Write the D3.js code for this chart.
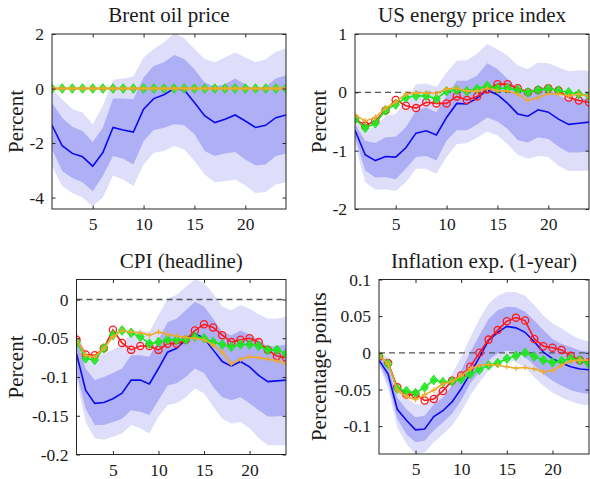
<!DOCTYPE html>
<html>
<head>
<meta charset="utf-8">
<script src="https://cdn.jsdelivr.net/npm/d3@7"></script>
<style>
  html, body { margin: 0; padding: 0; background: #fff; }
  svg { display: block; }
</style>
</head>
<body>
<svg id="chart" width="590" height="479"></svg>
<script>
// Horizons 1..24
const horizons = d3.range(1, 25);
const xTicks = [5, 10, 15, 20];

// ---- Brent oil price ----
const brentMedian = [-1.35,-2.1,-2.38,-2.5,-2.85,-2.35,-1.43,-1.52,-1.6,-0.76,-0.37,-0.23,0.0,-0.05,-0.51,-1.0,-1.25,-1.13,-0.97,-1.19,-1.43,-1.35,-1.07,-0.97];
const brentOuterHi = [-0.02,-0.39,-0.76,-0.88,-1.31,-0.64,0.32,0.37,0.44,1.14,1.45,1.69,2.04,1.84,1.45,1.08,0.96,1.14,1.32,1.14,0.96,1.06,1.35,1.47];
const brentInnerHi = [-0.52,-1.07,-1.4,-1.56,-1.96,-1.44,-0.37,-0.37,-0.39,0.4,0.83,0.96,1.23,1.08,0.71,0.22,0.07,0.16,0.37,0.16,-0.05,0.07,0.37,0.49];
const brentInnerLo = [-2.23,-3.03,-3.28,-3.44,-3.77,-3.21,-2.48,-2.58,-2.79,-1.93,-1.52,-1.44,-1.31,-1.35,-1.68,-2.29,-2.48,-2.38,-2.33,-2.6,-2.82,-2.79,-2.48,-2.38];
const brentOuterLo = [-2.85,-3.58,-3.83,-4.0,-4.32,-4.0,-3.19,-3.34,-3.58,-2.79,-2.36,-2.29,-2.11,-2.23,-2.66,-3.15,-3.44,-3.4,-3.34,-3.56,-3.83,-3.8,-3.52,-3.44];
const brentOrange = [0,0,0,0,0,0,0,0,0,0,0,0,0,0,0,0,0,0,0,0,0,0,0,0];
const brentGreen  = [0,0,0,0,0,0,0,0,0,0,0,0,0,0,0,0,0,0,0,0,0,0,0,0];
const brentTicks = [-4, -2, 0, 2];

// ---- US energy price index ----
const energyMedian = [-0.65,-1.07,-1.17,-1.1,-1.11,-0.95,-0.7,-0.66,-0.73,-0.43,-0.19,-0.2,-0.1,0.04,-0.04,-0.19,-0.37,-0.41,-0.3,-0.34,-0.46,-0.55,-0.53,-0.51];
const energyOuterHi = [-0.4,-0.63,-0.59,-0.4,-0.37,-0.14,0.14,0.15,0.09,0.34,0.54,0.55,0.66,0.83,0.74,0.63,0.46,0.4,0.51,0.5,0.43,0.36,0.38,0.37];
const energyInnerHi = [-0.54,-0.83,-0.87,-0.77,-0.76,-0.6,-0.31,-0.26,-0.34,-0.06,0.2,0.2,0.29,0.5,0.4,0.23,0.06,0.0,0.1,0.07,-0.05,-0.13,-0.11,-0.1];
const energyInnerLo = [-0.77,-1.34,-1.46,-1.45,-1.49,-1.31,-1.11,-1.09,-1.17,-0.83,-0.65,-0.65,-0.55,-0.43,-0.5,-0.63,-0.82,-0.86,-0.77,-0.8,-0.93,-1.03,-1.03,-1.01];
const energyOuterLo = [-0.89,-1.54,-1.67,-1.66,-1.69,-1.54,-1.31,-1.31,-1.4,-1.11,-0.89,-0.87,-0.78,-0.67,-0.74,-0.89,-1.07,-1.14,-1.09,-1.11,-1.26,-1.35,-1.35,-1.34];
const energyRed    = [-0.45,-0.57,-0.49,-0.31,-0.13,-0.23,-0.27,-0.17,-0.19,-0.19,-0.07,-0.13,-0.07,0.05,0.14,0.14,0.07,0.0,0.04,0.07,0.03,-0.09,-0.14,-0.17];
const energyOrange = [-0.39,-0.49,-0.43,-0.27,-0.17,-0.03,-0.01,-0.01,-0.02,0.06,0.07,0.02,0.02,0.07,0.03,0.02,-0.03,-0.14,-0.09,-0.02,-0.03,-0.06,-0.03,-0.07];
const energyGreen  = [-0.46,-0.61,-0.53,-0.31,-0.21,-0.09,-0.06,-0.06,-0.11,0.02,0.04,0.02,0.06,0.11,0.07,0.07,0.04,0.0,0.04,0.06,0.03,0.0,-0.03,-0.06];
const energyTicks = [-2, -1, 0, 1];

// ---- CPI (headline) ----
const cpiMedian = [-0.07,-0.117,-0.134,-0.133,-0.128,-0.121,-0.104,-0.104,-0.109,-0.089,-0.068,-0.063,-0.052,-0.044,-0.05,-0.065,-0.08,-0.086,-0.08,-0.087,-0.098,-0.106,-0.105,-0.104];
const cpiOuterHi = [-0.04,-0.068,-0.074,-0.07,-0.065,-0.059,-0.042,-0.04,-0.042,-0.02,0.001,0.006,0.016,0.026,0.021,0.008,-0.009,-0.014,-0.007,-0.012,-0.019,-0.025,-0.025,-0.022];
const cpiInnerHi = [-0.052,-0.089,-0.104,-0.1,-0.095,-0.089,-0.072,-0.072,-0.074,-0.052,-0.029,-0.025,-0.014,-0.003,-0.009,-0.025,-0.042,-0.046,-0.04,-0.045,-0.052,-0.061,-0.06,-0.058];
const cpiInnerLo = [-0.095,-0.141,-0.162,-0.162,-0.158,-0.154,-0.143,-0.145,-0.149,-0.13,-0.111,-0.108,-0.1,-0.089,-0.095,-0.113,-0.126,-0.13,-0.126,-0.134,-0.143,-0.151,-0.151,-0.149];
const cpiOuterLo = [-0.104,-0.158,-0.179,-0.181,-0.177,-0.173,-0.162,-0.166,-0.173,-0.151,-0.136,-0.134,-0.126,-0.115,-0.121,-0.138,-0.154,-0.16,-0.158,-0.166,-0.179,-0.188,-0.188,-0.188];
const cpiRed    = [-0.052,-0.071,-0.072,-0.063,-0.039,-0.056,-0.065,-0.06,-0.06,-0.065,-0.057,-0.057,-0.052,-0.04,-0.032,-0.036,-0.046,-0.055,-0.052,-0.05,-0.055,-0.065,-0.073,-0.075];
const cpiOrange = [-0.052,-0.072,-0.074,-0.063,-0.048,-0.04,-0.042,-0.043,-0.046,-0.042,-0.045,-0.047,-0.049,-0.05,-0.052,-0.059,-0.068,-0.083,-0.077,-0.074,-0.075,-0.077,-0.079,-0.083];
const cpiGreen  = [-0.055,-0.076,-0.078,-0.063,-0.046,-0.04,-0.043,-0.048,-0.057,-0.055,-0.052,-0.052,-0.052,-0.048,-0.05,-0.055,-0.058,-0.061,-0.058,-0.058,-0.06,-0.065,-0.065,-0.07];
const cpiTicks = [-0.2, -0.15, -0.1, -0.05, 0];

// ---- Inflation expectations (1-year) ----
const expMedian = [-0.01,-0.029,-0.077,-0.092,-0.105,-0.104,-0.087,-0.079,-0.067,-0.049,-0.028,-0.006,0.017,0.028,0.036,0.034,0.028,0.015,0.001,-0.008,-0.014,-0.019,-0.022,-0.023];
const expOuterHi = [-0.001,-0.006,-0.047,-0.061,-0.07,-0.07,-0.056,-0.047,-0.029,-0.006,0.021,0.046,0.067,0.078,0.083,0.083,0.078,0.065,0.051,0.04,0.033,0.025,0.019,0.015];
const expInnerHi = [-0.005,-0.019,-0.061,-0.077,-0.088,-0.086,-0.07,-0.061,-0.045,-0.024,0.001,0.024,0.046,0.058,0.063,0.062,0.056,0.044,0.031,0.019,0.012,0.008,0.003,0.001];
const expInnerLo = [-0.015,-0.04,-0.09,-0.111,-0.122,-0.12,-0.106,-0.095,-0.083,-0.065,-0.042,-0.026,-0.01,-0.001,0.003,0.001,-0.006,-0.017,-0.029,-0.038,-0.045,-0.051,-0.054,-0.056];
const expOuterLo = [-0.017,-0.049,-0.102,-0.124,-0.138,-0.136,-0.122,-0.111,-0.099,-0.081,-0.058,-0.04,-0.024,-0.015,-0.01,-0.013,-0.02,-0.033,-0.045,-0.054,-0.061,-0.066,-0.07,-0.072];
const expRed    = [-0.005,-0.014,-0.047,-0.057,-0.057,-0.065,-0.063,-0.052,-0.038,-0.031,-0.019,0.0,0.018,0.031,0.043,0.048,0.044,0.019,0.009,0.007,0.004,-0.004,-0.01,-0.013];
const expOrange = [-0.004,-0.015,-0.051,-0.06,-0.064,-0.057,-0.051,-0.042,-0.039,-0.031,-0.022,-0.017,-0.016,-0.017,-0.019,-0.021,-0.02,-0.022,-0.026,-0.024,-0.017,-0.011,-0.01,-0.01];
const expGreen  = [-0.004,-0.015,-0.049,-0.052,-0.055,-0.047,-0.037,-0.04,-0.039,-0.036,-0.029,-0.023,-0.017,-0.014,-0.008,-0.004,0.0,-0.005,-0.01,-0.013,-0.011,-0.008,-0.01,-0.015];
const expTicks = [-0.1, -0.05, 0, 0.05, 0.1];

const FONT = "'Liberation Serif', 'DejaVu Serif', serif";

const COL = {
  outer: "#dedefb",
  inner: "#afaff6",
  median: "#0a0af0",
  red: "#ff1a1a",
  orange: "#eeaa2a",
  green: "#1be81b",
  axis: "#262626",
  zero: "#555555"
};

const panels = [
  { title: "Brent oil price", ylabel: "Percent", box: [52, 34, 286, 209], yDomain: [-4.42, 2], ticks: brentTicks,
    median: brentMedian, outer: [brentOuterLo, brentOuterHi], inner: [brentInnerLo, brentInnerHi],
    red: null, orange: brentOrange, green: brentGreen, orangeWidth: 2.6, ylabelX: 16 },
  { title: "US energy price index", ylabel: "Percent", box: [355, 34, 589, 209], yDomain: [-2, 1], ticks: energyTicks,
    median: energyMedian, outer: [energyOuterLo, energyOuterHi], inner: [energyInnerLo, energyInnerHi],
    red: energyRed, orange: energyOrange, green: energyGreen, orangeWidth: 1.6, ylabelX: 319 },
  { title: "CPI (headline)", ylabel: "Percent", box: [76.5, 279.5, 286, 454.5], yDomain: [-0.2, 0.0258], ticks: cpiTicks,
    median: cpiMedian, outer: [cpiOuterLo, cpiOuterHi], inner: [cpiInnerLo, cpiInnerHi],
    red: cpiRed, orange: cpiOrange, green: cpiGreen, orangeWidth: 1.6, ylabelX: 16 },
  { title: "Inflation exp. (1-year)", ylabel: "Percentage points", box: [379, 279.5, 589, 454], yDomain: [-0.138, 0.1], ticks: expTicks,
    median: expMedian, outer: [expOuterLo, expOuterHi], inner: [expInnerLo, expInnerHi],
    red: expRed, orange: expOrange, green: expGreen, orangeWidth: 1.6, ylabelX: 319 }
];

const svg = d3.select("#chart");

panels.forEach((p, i) => {
  const [x0, y0, x1, y1] = p.box;
  const x = d3.scaleLinear().domain([1, 24]).range([x0, x1]);
  const y = d3.scaleLinear().domain(p.yDomain).range([y1, y0]);

  const clipId = "clip" + i;
  svg.append("clipPath").attr("id", clipId)
    .append("rect").attr("x", x0).attr("y", y0).attr("width", x1 - x0).attr("height", y1 - y0);

  const g = svg.append("g");
  const plot = g.append("g").attr("clip-path", `url(#${clipId})`);

  const band = (lo, hi) => d3.area()
    .x((d, k) => x(horizons[k]))
    .y0((d, k) => y(lo[k]))
    .y1((d, k) => y(hi[k]))(horizons);

  plot.append("path").attr("d", band(p.outer[0], p.outer[1])).attr("fill", COL.outer);
  plot.append("path").attr("d", band(p.inner[0], p.inner[1])).attr("fill", COL.inner);

  // zero reference
  plot.append("line")
    .attr("x1", x0).attr("x2", x1).attr("y1", y(0)).attr("y2", y(0))
    .attr("stroke", COL.zero).attr("stroke-width", 1.3).attr("stroke-dasharray", "6,4");

  const line = vals => d3.line().x((d, k) => x(horizons[k])).y((d, k) => y(vals[k]))(horizons);

  plot.append("path").attr("d", line(p.median)).attr("fill", "none")
    .attr("stroke", COL.median).attr("stroke-width", 1.6);

  // red series with open circles
  if (p.red) {
    plot.append("path").attr("d", line(p.red)).attr("fill", "none")
      .attr("stroke", COL.red).attr("stroke-width", 1.6);
    plot.append("g").selectAll("circle").data(p.red).join("circle")
      .attr("cx", (d, k) => x(horizons[k])).attr("cy", d => y(d)).attr("r", 3.6)
      .attr("fill", "none").attr("stroke", COL.red).attr("stroke-width", 1.3);
  }

  // green series with filled diamonds
  plot.append("path").attr("d", line(p.green)).attr("fill", "none")
    .attr("stroke", COL.green).attr("stroke-width", 1.6);
  plot.append("g").selectAll("path").data(p.green).join("path")
    .attr("d", "M0,-4.8L3.8,0L0,4.8L-3.8,0Z")
    .attr("transform", (d, k) => `translate(${x(horizons[k])},${y(d)})`)
    .attr("fill", COL.green).attr("fill-opacity", 0.85).attr("stroke", COL.green).attr("stroke-width", 1);

  // orange series with plus markers
  plot.append("path").attr("d", line(p.orange)).attr("fill", "none")
    .attr("stroke", COL.orange).attr("stroke-width", p.orangeWidth);
  plot.append("g").selectAll("path").data(p.orange).join("path")
    .attr("d", "M-2.8,0H2.8M0,-2.8V2.8")
    .attr("transform", (d, k) => `translate(${x(horizons[k])},${y(d)})`)
    .attr("fill", "none").attr("stroke", COL.orange).attr("stroke-width", 1.2);

  // axes box with inward ticks
  const tl = 3.5;
  const axL = d3.axisLeft(y).tickValues(p.ticks).tickSize(-tl).tickPadding(8)
    .tickFormat(d => (d < 0 ? "-" : "") + d3.format("")(Math.abs(d)));
  const axR = d3.axisRight(y).tickValues(p.ticks).tickSize(-tl).tickFormat("");
  const axB = d3.axisBottom(x).tickValues(xTicks).tickSize(-tl).tickPadding(9).tickFormat(d3.format("d"));
  const axT = d3.axisTop(x).tickValues(xTicks).tickSize(-tl).tickFormat("");

  const styleAxis = sel => {
    sel.attr("font-family", null);
    sel.selectAll(".tick line").attr("stroke", COL.axis).attr("stroke-width", 1);
    sel.selectAll("text").style("font-family", FONT).style("font-size", "17.5px").attr("fill", "#1a1a1a");
  };

  g.append("g").attr("transform", `translate(${x0},0)`).call(axL).call(styleAxis);
  g.append("g").attr("transform", `translate(${x1},0)`).call(axR).call(styleAxis);
  g.append("g").attr("transform", `translate(0,${y1})`).call(axB).call(styleAxis);
  g.append("g").attr("transform", `translate(0,${y0})`).call(axT).call(styleAxis);
  g.selectAll("path.domain").remove();
  g.append("rect").attr("x", x0).attr("y", y0).attr("width", x1 - x0).attr("height", y1 - y0)
    .attr("fill", "none").attr("stroke", COL.axis).attr("stroke-width", 1);

  g.append("text").attr("x", (x0 + x1) / 2).attr("y", y0 - 12)
    .attr("text-anchor", "middle").attr("fill", "#1a1a1a")
    .style("font-family", FONT).style("font-size", "21px").text(p.title);

  g.append("text")
    .attr("transform", `translate(${p.ylabelX},${(y0 + y1) / 2}) rotate(-90)`)
    .attr("text-anchor", "middle").attr("dominant-baseline", "central").attr("fill", "#1a1a1a")
    .style("font-family", FONT).style("font-size", "21px").text(p.ylabel);
});
</script>
</body>
</html>
